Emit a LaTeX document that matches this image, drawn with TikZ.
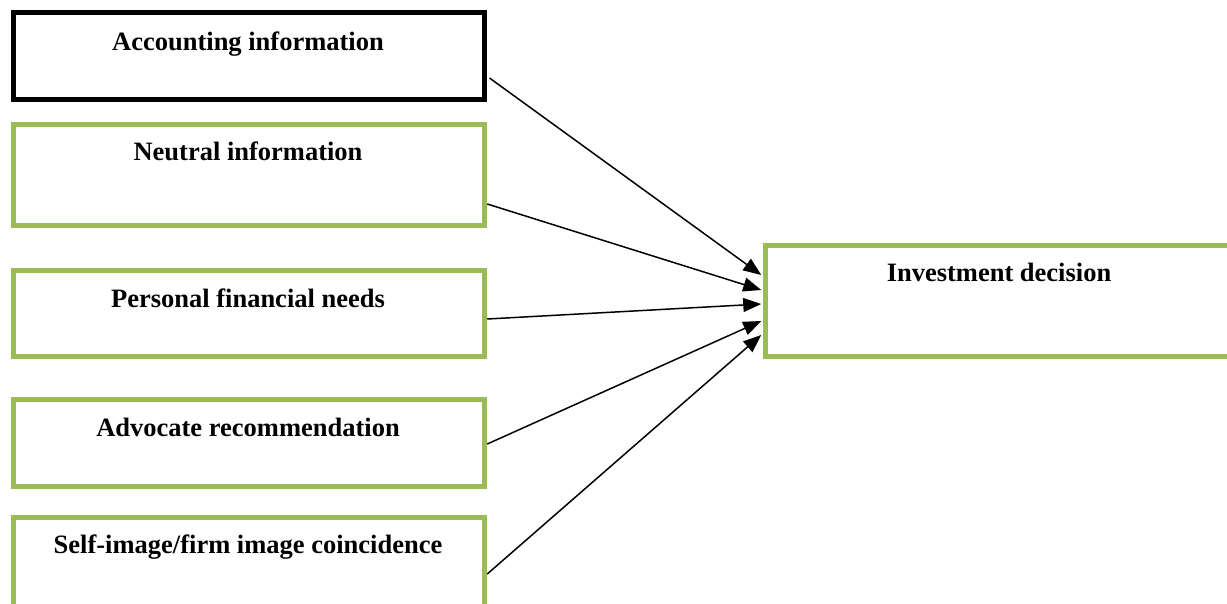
\documentclass[tikz,border=0pt]{standalone}
\usepackage{fontspec}
\setmainfont{Liberation Serif}
\usetikzlibrary{arrows.meta,calc}
\definecolor{boxgreen}{HTML}{9BBB59}
\tikzset{
  box/.style={draw, rectangle, inner sep=0pt, line width=4.5pt},
  greenbox/.style={box, draw=boxgreen},
  blackbox/.style={box, draw=black, line width=5pt},
  lbl/.style={anchor=base, inner sep=0pt, font=\fontsize{26.5}{30}\selectfont\bfseries},
  conn/.style={line width=1.5pt, -{Triangle[length=18pt,width=14pt]}}
}
\begin{document}
\begin{tikzpicture}[x=1pt,y=-1pt]
\useasboundingbox (0,0) rectangle (1227,603);
\clip (0,0) rectangle (1227,603);
% boxes
\node[blackbox, minimum width=471pt, minimum height=87pt] (b1) at (249,56) {};
\node[greenbox, minimum width=471pt, minimum height=101pt] (b2) at (249,175) {};
\node[greenbox, minimum width=471pt, minimum height=86pt] (b3) at (249,313.5) {};
\node[greenbox, minimum width=471pt, minimum height=87pt] (b4) at (249,443) {};
\node[greenbox, minimum width=471pt, minimum height=102.5pt] (b5) at (249,568.75) {};
\node[greenbox, minimum width=474.5pt, minimum height=111pt] (b6) at (1002.75,301) {};
% labels
\node[lbl] (t1) at (248,50) {Accounting information};
\node[lbl] (t2) at (248,160) {Neutral information};
\node[lbl] (t3) at (248,307) {Personal financial needs};
\node[lbl] (t4) at (248,436) {Advocate recommendation};
\node[lbl] (t5) at (248,553) {Self-image/firm image coincidence};
\node[lbl] (t6) at (999,281) {Investment decision};
% connectors
\draw[conn] ($(b1.east)+(2.5,22)$) -- ($(b6.west)+(-2,-26)$);
\draw[conn] ($(b2.east)+(0.5,29)$) -- ($(b6.west)+(-2,-11)$);
\draw[conn] ($(b3.east)+(0.5,5.5)$) -- ($(b6.west)+(-2,3)$);
\draw[conn] ($(b4.east)+(0.5,1)$) -- ($(b6.west)+(-2,20)$);
\draw[conn] ($(b5.east)+(0.5,5.25)$) -- ($(b6.west)+(-2,34)$);
\end{tikzpicture}
\end{document}
